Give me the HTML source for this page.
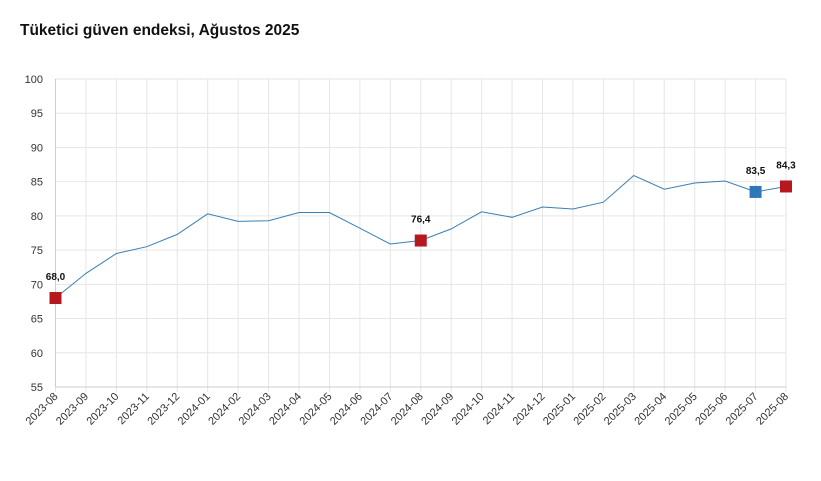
<!DOCTYPE html>
<html><head><meta charset="utf-8"><style>
body{margin:0;background:#fff;width:821px;height:476px;overflow:hidden;font-family:"Liberation Sans",sans-serif}
</style></head><body>
<svg id="c" width="821" height="476" xmlns="http://www.w3.org/2000/svg">
<text x="20" y="35" font-size="15.5" font-weight="bold" fill="#111" font-family="Liberation Sans, sans-serif">Tüketici güven endeksi, Ağustos 2025</text>
</svg>
<script>
var s=document.getElementById('c'),ns='http://www.w3.org/2000/svg',h='';
var x0=55.5,x1=786,y0=79,y1=387;
function X(i){return x0+(x1-x0)*i/24}
function Y(v){return y0+(100-v)*(y1-y0)/45}
for(var v=55;v<=100;v+=5){var y=Y(v);h+='<line x1="'+x0+'" x2="'+x1+'" y1="'+y+'" y2="'+y+'" stroke="#e6e6e6"/>';
h+='<text x="43" y="'+(y+4)+'" font-size="11" text-anchor="end" fill="#333">'+v+'</text>';}
var lab=[];for(var i=0;i<25;i++){var m=(8+i-1)%12+1,yr=2023+Math.floor((7+i)/12);lab.push(yr+'-'+(m<10?'0':'')+m);}
for(var i=0;i<25;i++){var x=X(i);h+='<line x1="'+x+'" x2="'+x+'" y1="'+y0+'" y2="'+(y1+5)+'" stroke="#e6e6e6"/>';
h+='<text transform="translate('+(x+3)+','+(y1+10)+') rotate(-45)" font-size="11" text-anchor="end" fill="#333">'+lab[i]+'</text>';}
h+='<line x1="'+x0+'" x2="'+x0+'" y1="'+y0+'" y2="'+y1+'" stroke="#ccc"/>';
h+='<line x1="'+x0+'" x2="'+x1+'" y1="'+y1+'" y2="'+y1+'" stroke="#ccc"/>';
var d=[68.0,71.6,74.5,75.5,77.3,80.3,79.2,79.3,80.5,80.5,78.2,75.9,76.4,78.1,80.6,79.8,81.3,81.0,82.0,85.9,83.9,84.8,85.1,83.5,84.3];
var p=d.map(function(v,i){return X(i).toFixed(1)+','+Y(v).toFixed(1)}).join(' ');
h+='<polyline points="'+p+'" fill="none" stroke="#3a7fb5" stroke-width="1"/>';
[[0,'#b5191f'],[12,'#b5191f'],[23,'#2f77b8'],[24,'#b5191f']].forEach(function(a){var x=X(a[0]),y=Y(d[a[0]]);
h+='<rect x="'+(x-6)+'" y="'+(y-6)+'" width="12" height="12" fill="'+a[1]+'"/>';
h+='<text x="'+x+'" y="'+(y-18)+'" font-size="10" font-weight="bold" text-anchor="middle" fill="#111">'+d[a[0]].toFixed(1).replace('.',',')+'</text>';});
s.insertAdjacentHTML('beforeend',h);
</script>
</body></html>
